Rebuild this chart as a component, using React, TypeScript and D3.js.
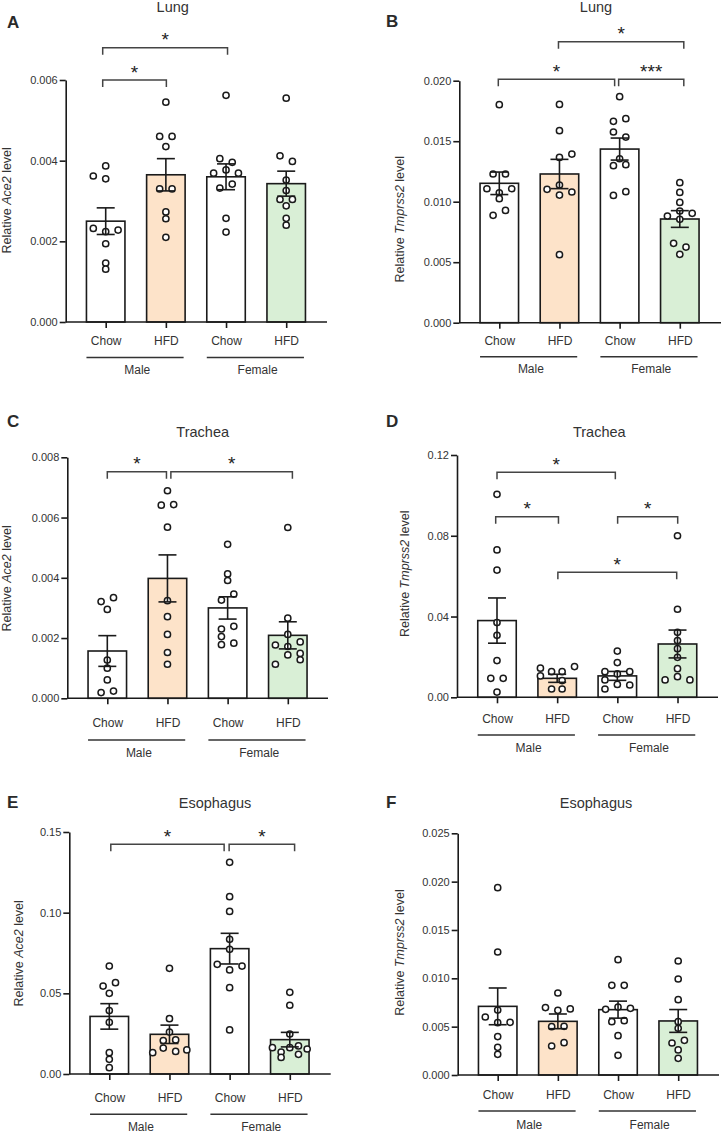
import React, { useEffect, useRef } from 'react';
import * as d3 from 'd3';

const FONT = '"Liberation Sans", Arial, Helvetica, sans-serif';
const INK = '#1a1a1a';
const TEXT = '#333333';

const dietLabels = ['Chow', 'HFD', 'Chow', 'HFD'];
const sexLabels = ['Male', 'Female'];
const barFills = ['#ffffff', '#fde3c9', '#ffffff', '#d9efd6'];

// ---------- A: Lung, Ace2 ----------
const lungAce2Points = [
  [0.00387, 0.00362, 0.00355, 0.00232, 0.00224, 0.00228, 0.00194, 0.00146, 0.00131],
  [0.00545, 0.0046, 0.0046, 0.00435, 0.0033, 0.0033, 0.00273, 0.00256, 0.0021],
  [0.00562, 0.00405, 0.00396, 0.00369, 0.00377, 0.00369, 0.00332, 0.00342, 0.00257, 0.00223],
  [0.00555, 0.00412, 0.00398, 0.00352, 0.00326, 0.00304, 0.00304, 0.00288, 0.00257, 0.0024],
];
const lungAce2Jitter = [
  [0, -2, 0, -2, 0, 2, 0, 0, 0],
  [0, -1, 1, 0, -1, 1, 0, 0, 0],
  [0, -1, 1, -2, 0, 2, -1, 1, 0, 0],
  [0, -1, 1, 0, 0, -1, 1, 0, 0, 0],
];
const lungAce2Mean = [0.0025, 0.00365, 0.0036, 0.00343];
const lungAce2Sem = [0.00033, 0.0004, 0.00032, 0.00031];
const lungAce2Ticks = [0, 0.002, 0.004, 0.006];

// ---------- B: Lung, Tmprss2 ----------
const lungTmprssPoints = [
  [0.01802, 0.01229, 0.01229, 0.01107, 0.01074, 0.01107, 0.01025, 0.00887, 0.00928],
  [0.01804, 0.01587, 0.01366, 0.01394, 0.01138, 0.01102, 0.0108, 0.01055, 0.00562],
  [0.01868, 0.01664, 0.01686, 0.01576, 0.01534, 0.01355, 0.01298, 0.01306, 0.01052, 0.01083],
  [0.01157, 0.01077, 0.00994, 0.00923, 0.00882, 0.00854, 0.00904, 0.00656, 0.00625, 0.00565],
];
const lungTmprssJitter = [
  [0, -1, 1, -2, 0, 2, 0, -1, 1],
  [0, 0, 0, 2, 0, -2, 2, 0, 0],
  [0, -1, 1, -1, 1, 0, -1, 1, -1, 1],
  [0, 0, 0, 0, -2, 0, 2, -1, 1, 0],
];
const lungTmprssMean = [0.01152, 0.01229, 0.01435, 0.00857];
const lungTmprssSem = [0.00093, 0.00121, 0.00091, 0.00069];
const lungTmprssTicks = [0, 0.005, 0.01, 0.015, 0.02];

// ---------- C: Trachea, Ace2 ----------
const tracheaAce2Points = [
  [0.00321, 0.00334, 0.00295, 0.00127, 0.001, 0.00061, 0.00019, 0.00024],
  [0.00689, 0.00641, 0.00643, 0.00568, 0.00324, 0.00271, 0.00212, 0.00152, 0.00113],
  [0.00511, 0.00413, 0.00391, 0.00326, 0.00346, 0.0023, 0.00239, 0.00205, 0.00178, 0.00183],
  [0.00567, 0.00266, 0.00212, 0.00177, 0.00172, 0.00187, 0.00144, 0.00113, 0.00149, 0.00128],
];
const tracheaAce2Jitter = [
  [-1, 1, 0, 0, 0, 0, -1, 1],
  [0, -1, 1, 0, 0, 0, 0, 0, 0],
  [0, 0, 0, -1, 1, -1, 1, -1, -1, 1],
  [0, 0, 0, -2, 0, 2, 0, -2, 2, 2],
];
const tracheaAce2Mean = [0.00157, 0.00398, 0.003, 0.00209];
const tracheaAce2Sem = [0.00051, 0.00078, 0.00037, 0.00045];
const tracheaAce2Ticks = [0, 0.002, 0.004, 0.006, 0.008];

// ---------- D: Trachea, Tmprss2 ----------
const tracheaTmprssPoints = [
  [0.1005, 0.073, 0.063, 0.037, 0.0307, 0.0182, 0.0094, 0.0094, 0.0026],
  [0.0144, 0.0106, 0.0127, 0.0127, 0.0152, 0.0083, 0.0041, 0.0041],
  [0.0229, 0.0172, 0.0127, 0.0127, 0.0116, 0.0086, 0.0064, 0.0061, 0.0041],
  [0.08, 0.0436, 0.0322, 0.0281, 0.0241, 0.0198, 0.0142, 0.0086, 0.0102, 0.0086],
];
const tracheaTmprssJitter = [
  [0, 0, 0, 0, 0, 0, -1, 1, 0],
  [-2.7, -2.7, -0.9, 0.8, 2.8, 0.8, -0.9, 0.8],
  [0, 0, -2, 2, 0, -2, 0, 2, -2],
  [0, 0, 0, 0, 0, 0, 0, -2, 0, 2],
];
const tracheaTmprssMean = [0.038, 0.0094, 0.0106, 0.0264];
const tracheaTmprssSem = [0.0112, 0.002, 0.0022, 0.0069];
const tracheaTmprssTicks = [0, 0.04, 0.08, 0.12];

// ---------- E: Esophagus, Ace2 ----------
const esoAce2Points = [
  [0.0669, 0.0545, 0.0566, 0.05, 0.0393, 0.032, 0.0132, 0.0091, 0.0039],
  [0.0655, 0.0343, 0.026, 0.0207, 0.0211, 0.0161, 0.014, 0.0132, 0.0149],
  [0.1312, 0.1099, 0.1008, 0.0835, 0.0773, 0.068, 0.0669, 0.0645, 0.0535, 0.0273],
  [0.0506, 0.0426, 0.0248, 0.0163, 0.0136, 0.0163, 0.0174, 0.0155, 0.0122, 0.0103],
];
const esoAce2Jitter = [
  [0, -1, 1, 0, 0, 0, 0, 0, 0],
  [0, 0, 0, -1, 1, -1, 1, -2.7, 2.8],
  [0, 0, 0, 0, 0, -2, 2, 0, 0, 0],
  [0, 0, 0, -2.8, -1.4, 0, 1.4, 2.8, 1.4, -1.4],
];
const esoAce2Mean = [0.0357, 0.0246, 0.0777, 0.0213];
const esoAce2Sem = [0.0079, 0.0057, 0.0095, 0.0045];
const esoAce2Ticks = [0, 0.05, 0.1, 0.15];

// ---------- F: Esophagus, Tmprss2 ----------
const esoTmprssPoints = [
  [0.01938, 0.01272, 0.00672, 0.006, 0.00545, 0.00541, 0.00397, 0.00286, 0.00214],
  [0.00848, 0.00697, 0.00669, 0.00683, 0.005, 0.00503, 0.003, 0.00334],
  [0.01193, 0.00928, 0.00928, 0.00679, 0.00703, 0.0069, 0.00552, 0.00562, 0.00407, 0.00203],
  [0.01179, 0.00993, 0.00779, 0.00552, 0.00483, 0.00331, 0.00359, 0.00259, 0.00172],
];
const esoTmprssJitter = [
  [0, 0, 0, -2, 2, 0, 0, 0, 0],
  [0, -2, 0, 2, -1, 1, -1, 1],
  [0, -1, 1, -2, 0, 2, -1, 1, 0, 0],
  [0, 0, 0, 0, 0, -1, 1, 0, 0],
];
const esoTmprssMean = [0.0071, 0.00555, 0.00676, 0.00559];
const esoTmprssSem = [0.0019, 0.00076, 0.00088, 0.00118];
const esoTmprssTicks = [0, 0.005, 0.01, 0.015, 0.02, 0.025];

// significance comparisons: [groupA, groupB, label]
const lungAce2Sig = [[0, 2, '*'], [0, 1, '*']];
const lungTmprssSig = [[1, 3, '*'], [0, 2, '*'], [2, 3, '***']];
const tracheaAce2Sig = [[0, 1, '*'], [1, 3, '*']];
const tracheaTmprssSig = [[0, 2, '*'], [0, 1, '*'], [2, 3, '*'], [1, 3, '*']];
const esoAce2Sig = [[0, 2, '*'], [2, 3, '*']];
const esoTmprssSig: any[] = [];

// layout (pixels) for each panel
const panels = [
  {
    letter: 'A', title: 'Lung', gene: 'Ace2', fmt: '.3f',
    points: lungAce2Points, jitter: lungAce2Jitter, mean: lungAce2Mean, sem: lungAce2Sem, ticks: lungAce2Ticks, sig: lungAce2Sig,
    lx: 7, ly: 22.5, tx: 172.7, ty: 11.7, axisX: 65.7, xEnd: 327, y0: 322, yTop: 80, ylx: 7, yly: 200.3,
    labelDy: 19, lineDy: 35.5, groupDy: 48.3,
    br: [{ y: 47.7, da: -3, db: 1.5 }, { y: 80, da: -3, db: 0.5 }],
  },
  {
    letter: 'B', title: 'Lung', gene: 'Tmprss2', fmt: '.3f',
    points: lungTmprssPoints, jitter: lungTmprssJitter, mean: lungTmprssMean, sem: lungTmprssSem, ticks: lungTmprssTicks, sig: lungTmprssSig,
    lx: 386, ly: 21.7, tx: 596, ty: 12.3, axisX: 459.3, xEnd: 721, y0: 322.7, yTop: 80.7, ylx: 400, yly: 219.2,
    labelDy: 17.8, lineDy: 34, groupDy: 46.6,
    br: [{ y: 41.7, da: -1, db: 4 }, { y: 79.3, da: -1, db: -5 }, { y: 79.3, da: -1, db: 4 }],
  },
  {
    letter: 'C', title: 'Trachea', gene: 'Ace2', fmt: '.3f',
    points: tracheaAce2Points, jitter: tracheaAce2Jitter, mean: tracheaAce2Mean, sem: tracheaAce2Sem, ticks: tracheaAce2Ticks, sig: tracheaAce2Sig,
    lx: 7, ly: 421.7, tx: 202.7, ty: 437.3, axisX: 67.3, xEnd: 328, y0: 698.3, yTop: 457.3, ylx: 7.2, yly: 578.3,
    labelDy: 24.5, lineDy: 41.7, groupDy: 54.4,
    br: [{ y: 471.7, da: 0, db: -1 }, { y: 471.7, da: 3.4, db: 4.6 }],
  },
  {
    letter: 'D', title: 'Trachea', gene: 'Tmprss2', fmt: '.2f',
    points: tracheaTmprssPoints, jitter: tracheaTmprssJitter, mean: tracheaTmprssMean, sem: tracheaTmprssSem, ticks: tracheaTmprssTicks, sig: tracheaTmprssSig,
    lx: 386, ly: 421.7, tx: 599.3, ty: 437.3, axisX: 457, xEnd: 718, y0: 697.3, yTop: 455, ylx: 404.5, yly: 573.8,
    labelDy: 21.7, lineDy: 37.7, groupDy: 51,
    br: [{ y: 472.3, da: 0, db: -2 }, { y: 516.7, da: -1.3, db: 1.3 }, { y: 516.7, da: 0.3, db: 0.2 }, { y: 572.3, da: 0.7, db: -0.8 }],
  },
  {
    letter: 'E', title: 'Esophagus', gene: 'Ace2', fmt: '.2f',
    points: esoAce2Points, jitter: esoAce2Jitter, mean: esoAce2Mean, sem: esoAce2Sem, ticks: esoAce2Ticks, sig: esoAce2Sig,
    lx: 7, ly: 802.5, tx: 215, ty: 808.3, axisX: 69.3, xEnd: 330.7, y0: 1074, yTop: 832, ylx: 19.2, yly: 953.3,
    labelDy: 23.7, lineDy: 40.3, groupDy: 53.3,
    br: [{ y: 844.3, da: 1.5, db: -5.5 }, { y: 844.3, da: -0.5, db: 4.8 }],
  },
  {
    letter: 'F', title: 'Esophagus', gene: 'Tmprss2', fmt: '.3f',
    points: esoTmprssPoints, jitter: esoTmprssJitter, mean: esoTmprssMean, sem: esoTmprssSem, ticks: esoTmprssTicks, sig: esoTmprssSig,
    lx: 386, ly: 802.5, tx: 596, ty: 808.3, axisX: 457.7, xEnd: 719, y0: 1075, yTop: 833.3, ylx: 400, yly: 952.5,
    labelDy: 20, lineDy: 36, groupDy: 50,
    br: [],
  },
];

const BAR_W = 38.5;
const JITTER_PX = 6.2;
const CAP = 9;

function YAxis({ scale, x, ticks, fmt }: any) {
  const ref = useRef<SVGGElement>(null);
  useEffect(() => {
    const g = d3.select(ref.current as SVGGElement);
    g.call(
      d3.axisLeft(scale).tickValues(ticks).tickFormat(d3.format(fmt) as any).tickSize(6).tickSizeOuter(0).tickPadding(2)
    );
    g.select('.domain').attr('stroke', INK).attr('stroke-width', 1.6);
    g.selectAll('.tick line').attr('stroke', INK).attr('stroke-width', 1.6);
    g.selectAll('.tick text').attr('fill', TEXT).attr('font-size', 11).attr('font-family', FONT);
  }, [scale, x, ticks, fmt]);
  return <g ref={ref} transform={`translate(${x},0)`} />;
}

function XAxis({ scale, y, labelDy }: any) {
  const ref = useRef<SVGGElement>(null);
  useEffect(() => {
    const g = d3.select(ref.current as SVGGElement);
    g.call(
      d3.axisBottom(scale).tickSize(6).tickPadding(labelDy - 4.2 - 6).tickFormat((d: any) => dietLabels[d])
    );
    g.select('.domain').remove();
    g.selectAll('.tick line').attr('stroke', INK).attr('stroke-width', 1.6);
    g.selectAll('.tick text').attr('fill', TEXT).attr('font-size', 12).attr('font-family', FONT);
  }, [scale, y, labelDy]);
  return <g ref={ref} transform={`translate(0,${y})`} />;
}

function Panel({ p }: any) {
  const x = d3.scalePoint<number>().domain([0, 1, 2, 3]).range([p.axisX + 40, p.axisX + 220.5]);
  const y = d3.scaleLinear().domain([0, p.ticks[p.ticks.length - 1]]).range([p.y0, p.yTop]);
  const cx = (i: number) => x(i) as number;
  return (
    <g>
      <text x={p.lx} y={p.ly} dominantBaseline="central" fontSize={17} fontWeight="bold" fill="#2a2a2a" fontFamily={FONT}>
        {p.letter}
      </text>
      <text x={p.tx} y={p.ty} textAnchor="middle" fontSize={14.5} fill={TEXT} fontFamily={FONT}>
        {p.title}
      </text>
      <text
        transform={`translate(${p.ylx},${p.yly}) rotate(-90)`}
        textAnchor="middle"
        dominantBaseline="central"
        fontSize={12.5}
        fill={TEXT}
        fontFamily={FONT}
      >
        Relative <tspan fontStyle="italic">{p.gene}</tspan> level
      </text>
      {/* bars */}
      {p.mean.map((m: number, i: number) => (
        <rect
          key={'b' + i}
          x={cx(i) - BAR_W / 2}
          y={y(m)}
          width={BAR_W}
          height={p.y0 - y(m)}
          fill={barFills[i]}
          stroke={INK}
          strokeWidth={1.6}
        />
      ))}
      {/* points */}
      {p.points.map((arr: number[], i: number) =>
        arr.map((v, k) => (
          <circle
            key={`p${i}-${k}`}
            cx={cx(i) + p.jitter[i][k] * JITTER_PX}
            cy={y(v)}
            r={3.1}
            fill="#ffffff"
            stroke={INK}
            strokeWidth={1.5}
          />
        ))
      )}
      {/* error bars */}
      {p.mean.map((m: number, i: number) => {
        const hi = y(m + p.sem[i]);
        const lo = y(m - p.sem[i]);
        const c = cx(i);
        return (
          <g key={'e' + i} stroke={INK} strokeWidth={1.6}>
            <line x1={c} x2={c} y1={hi} y2={lo} />
            <line x1={c - CAP} x2={c + CAP} y1={hi} y2={hi} />
            <line x1={c - CAP} x2={c + CAP} y1={lo} y2={lo} />
          </g>
        );
      })}
      {/* axes */}
      <YAxis scale={y} x={p.axisX} ticks={p.ticks} fmt={p.fmt} />
      <line x1={p.axisX} x2={p.xEnd} y1={p.y0} y2={p.y0} stroke={INK} strokeWidth={1.6} />
      <XAxis scale={x} y={p.y0} labelDy={p.labelDy} />
      {/* group lines */}
      {sexLabels.map((s, gi) => {
        const a = cx(gi * 2) - BAR_W / 2;
        const b = cx(gi * 2 + 1) + BAR_W / 2 - 1.5;
        return (
          <g key={'g' + gi}>
            <line x1={a} x2={b} y1={p.y0 + p.lineDy} y2={p.y0 + p.lineDy} stroke={TEXT} strokeWidth={1.5} />
            <text
              x={(cx(gi * 2) + cx(gi * 2 + 1)) / 2 + 1.5}
              y={p.y0 + p.groupDy}
              textAnchor="middle"
              dominantBaseline="central"
              fontSize={12}
              fill={TEXT}
              fontFamily={FONT}
            >
              {s}
            </text>
          </g>
        );
      })}
      {/* significance brackets */}
      {p.sig.map((s: any, k: number) => {
        const br = p.br[k];
        const a = cx(s[0]) + br.da;
        const b = cx(s[1]) + br.db;
        const yy = br.y;
        return (
          <g key={'s' + k}>
            <path
              d={`M${a},${yy + 7}V${yy}H${b}V${yy + 7}`}
              fill="none"
              stroke="#444"
              strokeWidth={1.5}
            />
            <text x={(a + b) / 2} y={yy - 1.5} textAnchor="middle" fontSize={19} fill="#222" fontFamily={FONT}>
              {s[2]}
            </text>
          </g>
        );
      })}
    </g>
  );
}

export default function App() {
  return (
    <svg
      width={722}
      height={1133}
      viewBox="0 0 722 1133"
      style={{ position: 'absolute', left: 0, top: 0, background: '#ffffff', display: 'block' }}
    >
      <rect x={0} y={0} width={722} height={1133} fill="#ffffff" />
      {panels.map((p) => (
        <Panel key={p.letter} p={p} />
      ))}
    </svg>
  );
}
